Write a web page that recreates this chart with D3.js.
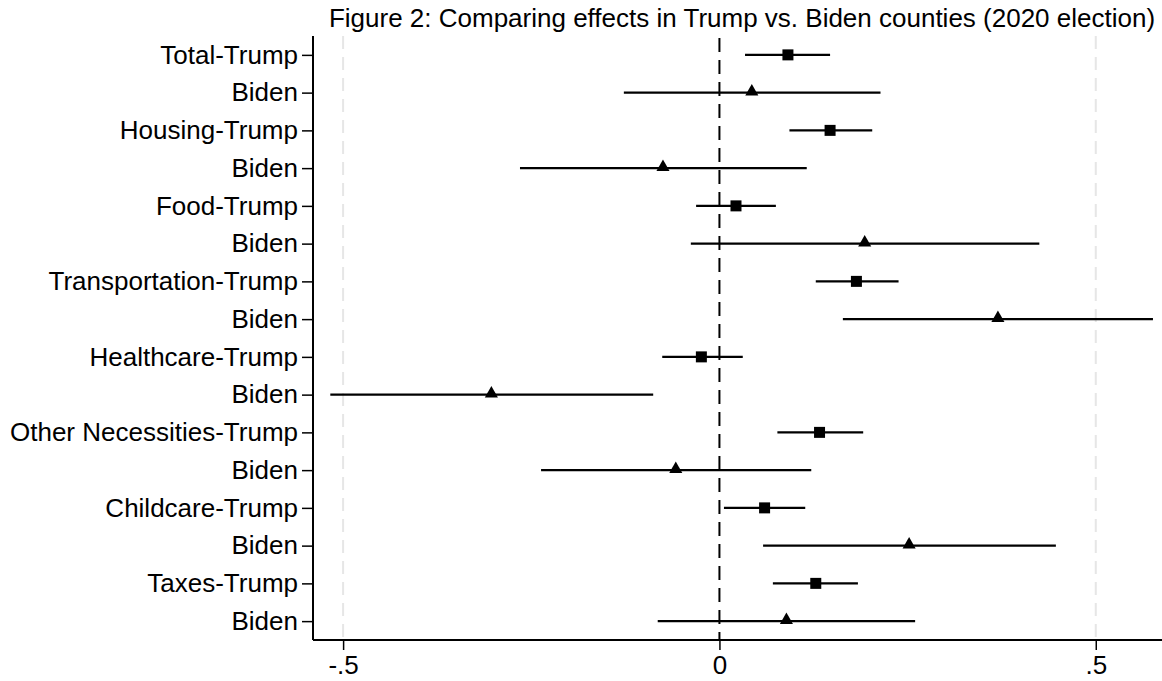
<!DOCTYPE html>
<html>
<head>
<meta charset="utf-8">
<script src="https://cdn.jsdelivr.net/npm/d3@7"></script>
<style>
	body { margin: 0; background: #fff; }
	svg { display: block; font-family: "Liberation Sans", Arial, sans-serif; }
</style>
</head>
<body>
<div id="chart"></div>
<script>
//DATA
var labels = ['Total-Trump','Biden','Housing-Trump','Biden','Food-Trump','Biden',
	'Transportation-Trump','Biden','Healthcare-Trump','Biden','Other Necessities-Trump','Biden',
	'Childcare-Trump','Biden','Taxes-Trump','Biden'];
var groups = ['Trump','Biden','Trump','Biden','Trump','Biden','Trump','Biden',
	'Trump','Biden','Trump','Biden','Trump','Biden','Trump','Biden'];
var estimates = [0.091, 0.043, 0.147, -0.075, 0.022, 0.193, 0.182, 0.370,
	-0.024, -0.303, 0.133, -0.058, 0.060, 0.252, 0.128, 0.089];
var lower = [0.034, -0.127, 0.093, -0.265, -0.031, -0.038, 0.128, 0.164,
	-0.076, -0.517, 0.077, -0.237, 0.006, 0.058, 0.071, -0.082];
var upper = [0.147, 0.214, 0.203, 0.116, 0.075, 0.425, 0.238, 0.576,
	0.031, -0.088, 0.191, 0.122, 0.114, 0.447, 0.184, 0.260];
var xTicks = [-0.5, 0, 0.5];
var xTickLabels = ['-.5', '0', '.5'];
var title = 'Figure 2: Comparing effects in Trump vs. Biden counties (2020 election)';

var width = 1162, height = 681;
//plot region (note: "top" is a reserved window property, so prefix everything)
var plotLeft = 313, plotRight = 1162, plotTop = 36, plotBottom = 640;

var svg = d3.select('#chart').append('svg')
	.attr('width', width)
	.attr('height', height);

var rows = labels.map(function(d, i){ return i; });

var x = d3.scaleLinear().domain([-0.54, 0.588]).range([plotLeft, plotRight]);
var y = d3.scalePoint().domain(rows).range([plotTop, plotBottom]).padding(0.5);

//gridlines at -.5 and .5
svg.append('g')
	.selectAll('line')
	.data([-0.5, 0.5])
	.enter()
	.append('line')
	.attr('x1', function(d){ return x(d); })
	.attr('x2', function(d){ return x(d); })
	.attr('y1', plotTop)
	.attr('y2', plotBottom)
	.attr('stroke', '#e6e6e6')
	.attr('stroke-width', 2)
	.attr('stroke-dasharray', '13,8');

//zero reference line
svg.append('line')
	.attr('x1', x(0))
	.attr('x2', x(0))
	.attr('y1', plotTop)
	.attr('y2', plotBottom)
	.attr('stroke', '#000')
	.attr('stroke-width', 2)
	.attr('stroke-dasharray', '14,8')
	.attr('stroke-dashoffset', -2);

//x axis
var xAxis = d3.axisBottom(x)
	.tickValues(xTicks)
	.tickFormat(function(d, i){ return xTickLabels[i]; })
	.tickSize(10)
	.tickPadding(6);

var gx = svg.append('g')
	.attr('transform', 'translate(0,' + plotBottom + ')')
	.call(xAxis);
gx.select('.domain').attr('d', 'M' + plotLeft + ',0H' + plotRight).attr('stroke-width', 2);
gx.selectAll('.tick line').attr('stroke-width', 1.5);
gx.selectAll('.tick text')
	.attr('font-size', 26)
	.attr('fill', '#000')
	.attr('font-family', '"Liberation Sans", Arial, sans-serif');

//y axis
var yAxis = d3.axisLeft(y)
	.tickFormat(function(d){ return labels[d]; })
	.tickSize(11)
	.tickPadding(4);

var gy = svg.append('g')
	.attr('transform', 'translate(' + plotLeft + ',0)')
	.call(yAxis);
gy.select('.domain').attr('d', 'M0,' + plotTop + 'V' + plotBottom).attr('stroke-width', 2);
gy.selectAll('.tick line').attr('stroke-width', 1.5);
gy.selectAll('.tick text')
	.attr('font-size', 26)
	.attr('fill', '#000')
	.attr('font-family', '"Liberation Sans", Arial, sans-serif');

//confidence intervals
svg.append('g')
	.selectAll('line')
	.data(rows)
	.enter()
	.append('line')
	.attr('x1', function(d){ return x(lower[d]); })
	.attr('x2', function(d){ return x(upper[d]); })
	.attr('y1', function(d){ return y(d); })
	.attr('y2', function(d){ return y(d); })
	.attr('stroke', '#000')
	.attr('stroke-width', 2.2);

//point estimates: square for Trump, triangle for Biden
var square = d3.symbol().type(d3.symbolSquare).size(121);
var triangle = d3.symbol().type(d3.symbolTriangle).size(74);

svg.append('g')
	.selectAll('path')
	.data(rows)
	.enter()
	.append('path')
	.attr('transform', function(d){
		var dy = groups[d] === 'Biden' ? -1 : 0;
		return 'translate(' + x(estimates[d]) + ',' + (y(d) + dy) + ')';
	})
	.attr('d', function(d){ return groups[d] === 'Trump' ? square() : triangle(); })
	.attr('fill', '#000');

//title
svg.append('text')
	.attr('x', 742)
	.attr('y', 27)
	.attr('text-anchor', 'middle')
	.attr('font-size', 26)
	.attr('fill', '#000')
	.text(title);
</script>
</body>
</html>
